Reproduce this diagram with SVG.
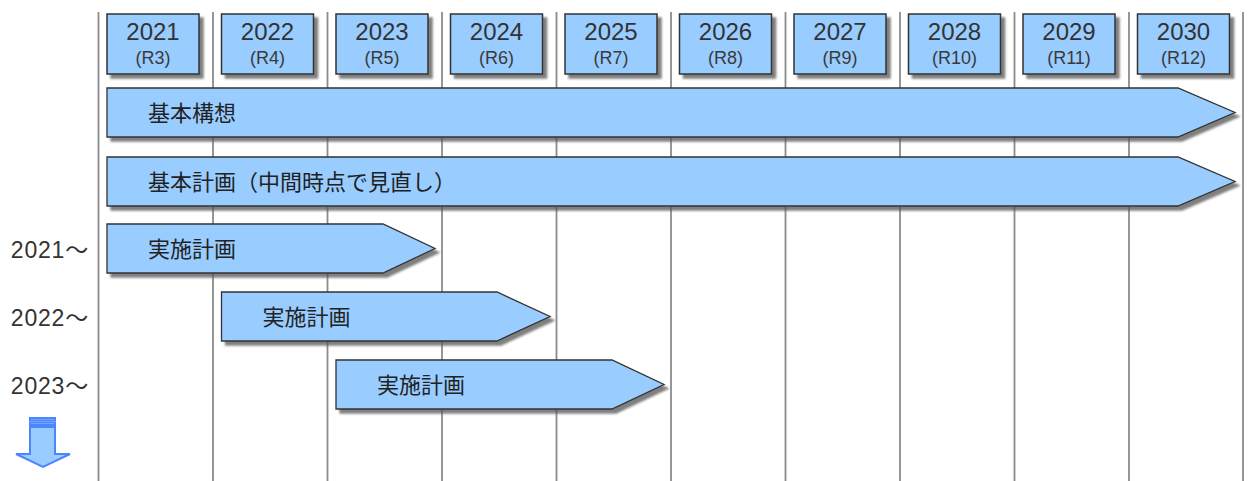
<svg xmlns="http://www.w3.org/2000/svg" width="1248" height="481" viewBox="0 0 1248 481">
<defs>
<filter id="sh" x="-5%" y="-20%" width="115%" height="150%">
<feDropShadow dx="4" dy="4" stdDeviation="1.3" flood-color="#555" flood-opacity="0.75"/>
</filter>
</defs>
<style>
.grid{stroke:#8c8c8c;stroke-width:1.8;fill:none}
.box{fill:#99ccff;stroke:#333;stroke-width:1.5;filter:url(#sh)}
.bar{fill:#99ccff;stroke:#333;stroke-width:1.3;stroke-linejoin:miter;filter:url(#sh)}
.yr{font-family:"Liberation Sans","Noto Sans",sans-serif;font-size:24px;fill:#333;text-anchor:middle}
.rw{font-family:"Liberation Sans","Noto Sans",sans-serif;font-size:18px;fill:#3a3a3a;text-anchor:middle}
.lb{font-family:"Noto Sans CJK JP",sans-serif;font-size:22px;fill:#222}
.row{font-family:"Liberation Sans","Noto Sans CJK JP",sans-serif;font-size:23px;letter-spacing:0.8px;fill:#333;text-anchor:end}
.arr{fill:#99ccff;stroke:#4d85ff;stroke-width:2}
</style>
<g id="connectors">
<line class="grid" x1="98.5" y1="12" x2="98.5" y2="481"/>
<line class="grid" x1="213" y1="12" x2="213" y2="481"/>
<line class="grid" x1="327.5" y1="12" x2="327.5" y2="481"/>
<line class="grid" x1="442" y1="12" x2="442" y2="481"/>
<line class="grid" x1="556.5" y1="12" x2="556.5" y2="481"/>
<line class="grid" x1="671" y1="12" x2="671" y2="481"/>
<line class="grid" x1="785.5" y1="12" x2="785.5" y2="481"/>
<line class="grid" x1="900" y1="12" x2="900" y2="481"/>
<line class="grid" x1="1014.5" y1="12" x2="1014.5" y2="481"/>
<line class="grid" x1="1129" y1="12" x2="1129" y2="481"/>
<line class="grid" x1="1243" y1="12" x2="1243" y2="481"/>
</g>
<g id="y2021"><rect class="box" x="107" y="14" width="92" height="60"/><text class="yr" x="153" y="40">2021</text><text class="rw" x="153" y="64">(R3)</text></g>
<g id="y2022"><rect class="box" x="221.5" y="14" width="92" height="60"/><text class="yr" x="267.5" y="40">2022</text><text class="rw" x="267.5" y="64">(R4)</text></g>
<g id="y2023"><rect class="box" x="336" y="14" width="92" height="60"/><text class="yr" x="382" y="40">2023</text><text class="rw" x="382" y="64">(R5)</text></g>
<g id="y2024"><rect class="box" x="450.5" y="14" width="92" height="60"/><text class="yr" x="496.5" y="40">2024</text><text class="rw" x="496.5" y="64">(R6)</text></g>
<g id="y2025"><rect class="box" x="565" y="14" width="92" height="60"/><text class="yr" x="611" y="40">2025</text><text class="rw" x="611" y="64">(R7)</text></g>
<g id="y2026"><rect class="box" x="679.5" y="14" width="92" height="60"/><text class="yr" x="725.5" y="40">2026</text><text class="rw" x="725.5" y="64">(R8)</text></g>
<g id="y2027"><rect class="box" x="794" y="14" width="92" height="60"/><text class="yr" x="840" y="40">2027</text><text class="rw" x="840" y="64">(R9)</text></g>
<g id="y2028"><rect class="box" x="908.5" y="14" width="92" height="60"/><text class="yr" x="954.5" y="40">2028</text><text class="rw" x="954.5" y="64">(R10)</text></g>
<g id="y2029"><rect class="box" x="1023" y="14" width="92" height="60"/><text class="yr" x="1069" y="40">2029</text><text class="rw" x="1069" y="64">(R11)</text></g>
<g id="y2030"><rect class="box" x="1137.5" y="14" width="92" height="60"/><text class="yr" x="1183.5" y="40">2030</text><text class="rw" x="1183.5" y="64">(R12)</text></g>
<g id="bar-kihonkoso"><path class="bar" d="M107,88 H1178 L1235,112.5 L1178,137 H107 Z"/><text class="lb" x="148" y="120.5">基本構想</text></g>
<g id="bar-kihonkeikaku"><path class="bar" d="M107,157 H1178 L1235,181.5 L1178,206 H107 Z"/><text class="lb" x="148" y="189.5">基本計画（中間時点で見直し）</text></g>
<g id="bar-2021"><path class="bar" d="M107,224 H383 L435,248.5 L383,273 H107 Z"/><text class="lb" x="148" y="256.5">実施計画</text></g>
<g id="bar-2022"><path class="bar" d="M221.5,292 H497 L550,316.5 L497,341 H221.5 Z"/><text class="lb" x="262.5" y="324.5">実施計画</text></g>
<g id="bar-2023"><path class="bar" d="M336,360 H612 L664,384.5 L612,409 H336 Z"/><text class="lb" x="377" y="392.5">実施計画</text></g>
<g id="row-labels">
<text class="row" x="89" y="258">2021～</text>
<text class="row" x="89" y="326">2022～</text>
<text class="row" x="89" y="394">2023～</text>
</g>
<g id="down-arrow">
<rect class="arr" x="30" y="418" width="25" height="2.5"/>
<rect class="arr" x="30" y="422.5" width="25" height="2.5"/>
<path class="arr" d="M30,427 H55 V454 H70 L43,467 L16,454 H30 Z"/>
</g>
</svg>
